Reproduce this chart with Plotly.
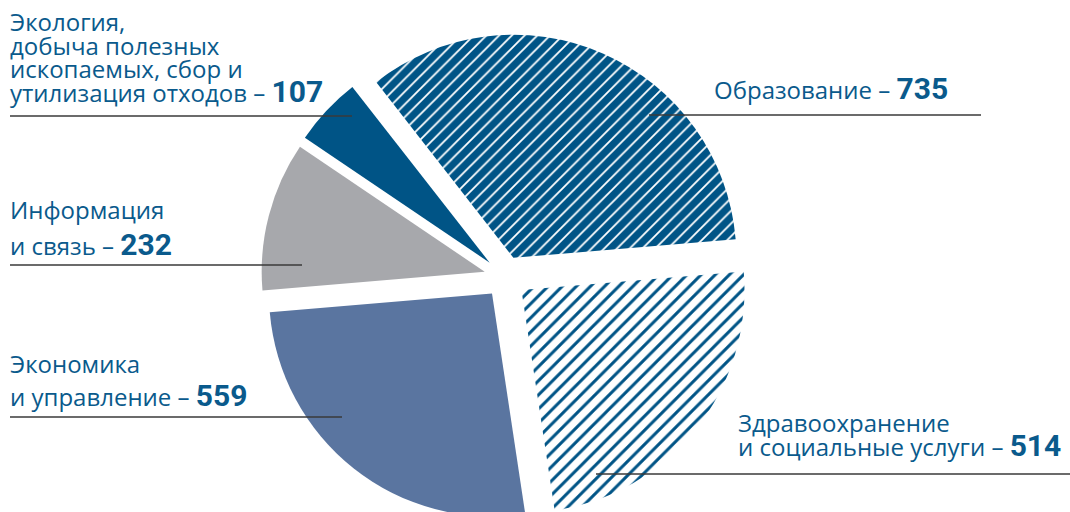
import plotly.graph_objects as go

# ---- data ----
categories = [
    "Образование",
    "Здравоохранение и социальные услуги",
    "Экономика и управление",
    "Информация и связь",
    "Экология, добыча полезных ископаемых, сбор и утилизация отходов",
]
values = [735, 514, 559, 232, 107]
pattern_shapes = ["/", "/", "", "", ""]
pattern_fg = ["#ffffff", "#005486", "#5a75a0", "#a7a8ac", "#005486"]
pattern_bg = ["#005486", "#ffffff", "#5a75a0", "#a7a8ac", "#005486"]
pattern_size = [9, 10, 8, 8, 8]
pattern_solidity = [0.2, 0.3, 0.3, 0.3, 0.3]

# label texts: (text lines, value)
label_lines = [
    (["Образование – "], 735),
    (["Здравоохранение", "и социальные услуги – "], 514),
    (["Экономика", "и управление – "], 559),
    (["Информация", "и связь – "], 232),
    (["Экология,", "добыча полезных", "ископаемых, сбор и", "утилизация отходов – "], 107),
]

W, H = 1070, 521
TEXT_COLOR = "#0a5a8c"
LINE_COLOR = "#3a3a3a"
TEXT_FONT = "Open Sans"
NUM_FONT = "Roboto"


def px(x):
    return x / W


def py(y):
    return 1 - y / H


fig = go.Figure()
fig.add_trace(go.Pie(
    labels=categories,
    values=values,
    sort=False,
    direction="clockwise",
    rotation=-38,
    pull=[0.094] * len(values),
    textinfo="none",
    hoverinfo="label+value",
    showlegend=False,
    marker=dict(
        colors=pattern_bg,
        line=dict(width=0),
        pattern=dict(
            shape=pattern_shapes,
            fgcolor=pattern_fg,
            bgcolor=pattern_bg,
            size=pattern_size,
            solidity=pattern_solidity,
            fillmode="replace",
        ),
    ),
    domain=dict(x=[261 / W, 749 / W], y=[0, 488 / H]),
))

# label layout: x start, baselines of each text line, leader line (y, x0, x1)
label_layout = [
    (713, [98], (115, 649, 981)),
    (737, [432, 455], (474, 596, 1070)),
    (9, [373, 405], (417, 10, 342)),
    (9, [219, 254], (265, 10, 302)),
    (9, [31, 55, 78, 101], (116, 10, 352)),
]

annotations = []
shapes = []
FS = 24
NFS = 30
for (lines, val), (x0, baselines, (ly, lx0, lx1)) in zip(label_lines, label_layout):
    for i, (t, b) in enumerate(zip(lines, baselines)):
        last = i == len(lines) - 1
        if last:
            txt = (t + "<span style='font-family:%s;font-size:%dpx;font-weight:bold'>%d</span>"
                   % (NUM_FONT, NFS, val))
            yb = b + 9
        else:
            txt = t
            yb = b + 8
        annotations.append(dict(
            x=px(x0), y=py(yb), xref="paper", yref="paper",
            xanchor="left", yanchor="bottom", showarrow=False,
            text=txt, align="left",
            font=dict(family=TEXT_FONT, size=FS, color=TEXT_COLOR),
            borderpad=0,
        ))
    shapes.append(dict(
        type="line", xref="paper", yref="paper",
        x0=px(lx0), x1=px(lx1), y0=py(ly), y1=py(ly),
        line=dict(color=LINE_COLOR, width=1.5), layer="above",
    ))

fig.update_layout(
    width=W, height=H,
    margin=dict(l=0, r=0, t=0, b=0),
    paper_bgcolor="white",
    plot_bgcolor="white",
    annotations=annotations,
    shapes=shapes,
)

fig.write_html(
    "out.html",
    config={"displayModeBar": False},
    post_script="document.body.style.margin='0';document.body.style.overflow='hidden';"
                "document.documentElement.style.overflow='hidden';",
)
